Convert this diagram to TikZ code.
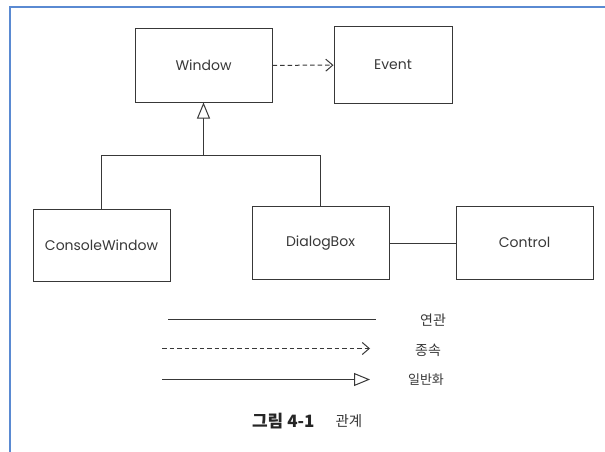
\documentclass[tikz,border=0pt]{standalone}
\usepackage{fontspec}
\setmainfont{Poppins}
\newfontfamily\kr{Noto Sans CJK KR}
\usetikzlibrary{arrows.meta}
\definecolor{ink}{HTML}{383838}
\definecolor{frameblue}{HTML}{5A8AD2}
\tikzset{
  classbox/.style={draw=ink, line width=1pt, minimum width=137pt, minimum height=73pt,
    inner sep=0pt, font=\fontsize{14}{16}\selectfont, text=ink},
  link/.style={draw=ink, line width=1pt},
  depends/.style={link, dashed, dash pattern=on 4.5pt off 3pt, -{Straight Barb[length=7pt,width=12pt,line width=1pt]}},
  inherits/.style={link, -{Triangle[open,length=16pt,width=13pt,fill=white]}},
  legendtext/.style={font=\kr\fontsize{14}{16}\selectfont, text=ink},
}
\begin{document}
\begin{tikzpicture}[x=1pt,y=-1pt]
\useasboundingbox (0,0) rectangle (605,452);
% page frame
\draw[frameblue, line width=2.5pt] (10,452) -- (10,7) -- (605,7);

% classes
\node[classbox] (window) at (203.5,65.5) {Window};
\node[classbox, minimum width=118pt, minimum height=76pt] (event) at (393,65) {Event};
\node[classbox, minimum height=72pt] (console) at (101.5,245) {ConsoleWindow};
\node[classbox] (dialog) at (320.5,243) {DialogBox};
\node[classbox] (control) at (524.5,242.5) {Control};

% relations
\draw[depends] (window) -- (event);
\coordinate (join) at (203.5,155.5);
\draw[inherits] (join) -- (window.south);
\draw[link] (console.north) |- (join) -| (dialog.north);
\draw[link] (dialog.east) -- (control.west |- dialog.east);

% legend
\coordinate (a1) at (168,319.5); \coordinate (a2) at (376,319.5);
\coordinate (d1) at (162,348.5); \coordinate (d2) at (370,348.5);
\coordinate (g1) at (162,379.5); \coordinate (g2) at (370,379.5);
\draw[link] (a1) -- (a2);
\draw[depends] (d1) -- (d2);
\draw[inherits] (g1) -- (g2);
\node[legendtext] (assoc) at (433,320) {연관};
\node[legendtext] (dep) at (428,350) {종속};
\node[legendtext, font=\kr\fontsize{13}{15}\selectfont] (gen) at (426,380) {일반화};

% caption
\node[font=\kr\fontsize{17}{19}\selectfont\bfseries, text=black!85, anchor=east] (fig) at (318,421) {그림 4-1};
\node[font=\kr\fontsize{14.5}{17}\selectfont, text=ink, anchor=west] (title) at (332,421) {관계};
\end{tikzpicture}
\end{document}
